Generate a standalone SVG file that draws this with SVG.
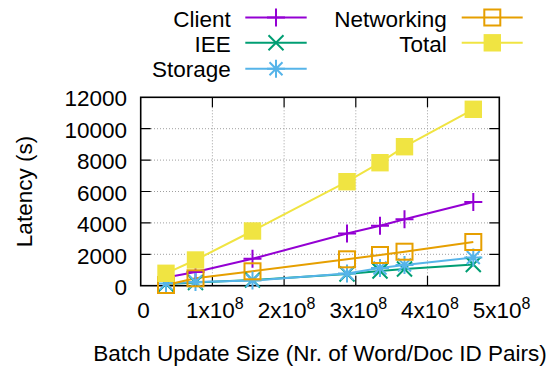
<svg xmlns="http://www.w3.org/2000/svg" width="557" height="366" viewBox="0 0 557 366">
<defs>
<style>
text{font-family:"Liberation Sans",Arial,sans-serif;font-size:22.5px;fill:#000}
.grid{stroke:#a0a0a0;stroke-width:1;stroke-dasharray:1 2;fill:none}
.tick{stroke:#000;stroke-width:1.2;fill:none}
.border{stroke:#000;stroke-width:1.6;fill:none}
.ln{fill:none;stroke-width:2;stroke-linejoin:round}
.client{stroke:#9400d3}
.iee{stroke:#009e73}
.storage{stroke:#56b4e9}
.net{stroke:#e69f00}
.total{stroke:#f0e442}
</style>
<path id="mPlus" d="M-9,0H9M0,-9V9" stroke-width="2"/>
<path id="mCross" d="M-7.5,-7.5L7.5,7.5M-7.5,7.5L7.5,-7.5" stroke-width="2"/>
<path id="mStar" d="M-9,0H9M0,-9V9M-6.5,-6.5L6.5,6.5M-6.5,6.5L6.5,-6.5" stroke-width="2"/>
<rect id="mBox" x="-8" y="-8" width="16" height="16" fill="none" stroke-width="2"/>
<rect id="mFill" x="-8.7" y="-8.7" width="17.4" height="17.4" fill="#f0e442" stroke="none"/>
</defs>
<rect width="557" height="366" fill="#fff"/>

<g id="grid">
<path class="grid" d="M151,128.7H489M151,160.1H489M151,191.5H489M151,222.9H489M151,254.3H489"/>
<path class="grid" d="M212.4,107.3V275.7M284.1,107.3V275.7M355.8,107.3V275.7M427.5,107.3V275.7"/>
</g>

<g id="axes">
<path class="tick" d="M140.7,128.7h10M140.7,160.1h10M140.7,191.5h10M140.7,222.9h10M140.7,254.3h10M499.3,128.7h-10M499.3,160.1h-10M499.3,191.5h-10M499.3,222.9h-10M499.3,254.3h-10"/>
<path class="tick" d="M212.4,285.7v-10M284.1,285.7v-10M355.8,285.7v-10M427.5,285.7v-10M212.4,97.3v10M284.1,97.3v10M355.8,97.3v10M427.5,97.3v10"/>
<rect class="border" x="140.7" y="97.3" width="358.6" height="188.4"/>
<g text-anchor="end">
<text x="127" y="106">12000</text>
<text x="127" y="137.5">10000</text>
<text x="127" y="169">8000</text>
<text x="127" y="200.5">6000</text>
<text x="127" y="232">4000</text>
<text x="127" y="263.5">2000</text>
<text x="127" y="294.5">0</text>
</g>
<text x="143.5" y="318" text-anchor="middle">0</text>
<text x="186" y="318">1x10<tspan font-size="16" dy="-9">8</tspan></text>
<text x="257.7" y="318">2x10<tspan font-size="16" dy="-9">8</tspan></text>
<text x="329.4" y="318">3x10<tspan font-size="16" dy="-9">8</tspan></text>
<text x="401.1" y="318">4x10<tspan font-size="16" dy="-9">8</tspan></text>
<text x="472.8" y="318">5x10<tspan font-size="16" dy="-9">8</tspan></text>
<text transform="translate(32.3,191.5) rotate(-90)" text-anchor="middle">Latency (s)</text>
<text x="320" y="360.5" text-anchor="middle">Batch Update Size (Nr. of Word/Doc ID Pairs)</text>
</g>

<g id="connectors">
<polyline class="ln client" points="166,277.5 195.5,272 252.5,258.8 347,233.5 380,225.7 404.5,219.2 473.3,202"/>
<polyline class="ln iee" points="166,284 195.5,282.5 252.5,280 347,274 380,271 404.5,269 473.3,264.5"/>
<polyline class="ln storage" points="166,283.5 195.5,282 252.5,280.5 347,273.5 380,268 404.5,265 473.3,257.5"/>
<polyline class="ln net" points="166,285 195.5,278.3 252.5,271.3 347,259.3 380,255 404.5,251.7 473.3,242"/>
<polyline class="ln total" points="166,273.3 195.5,260 252.5,231 347,181.7 380,162.7 404.5,146.7 473.3,109.3"/>
</g>

<g id="series-client" class="client">
<use href="#mPlus" x="166" y="277.5"/><use href="#mPlus" x="195.5" y="272"/><use href="#mPlus" x="252.5" y="258.8"/><use href="#mPlus" x="347" y="233.5"/><use href="#mPlus" x="380" y="225.7"/><use href="#mPlus" x="404.5" y="219.2"/><use href="#mPlus" x="473.3" y="202"/>
</g>
<g id="series-iee" class="iee">
<use href="#mCross" x="166" y="284"/><use href="#mCross" x="195.5" y="282.5"/><use href="#mCross" x="252.5" y="280"/><use href="#mCross" x="347" y="274"/><use href="#mCross" x="380" y="271"/><use href="#mCross" x="404.5" y="269"/><use href="#mCross" x="473.3" y="264.5"/>
</g>
<g id="series-storage" class="storage">
<use href="#mStar" x="166" y="283.5"/><use href="#mStar" x="195.5" y="282"/><use href="#mStar" x="252.5" y="280.5"/><use href="#mStar" x="347" y="273.5"/><use href="#mStar" x="380" y="268"/><use href="#mStar" x="404.5" y="265"/><use href="#mStar" x="473.3" y="257.5"/>
</g>
<g id="series-networking" class="net">
<use href="#mBox" x="166" y="285"/><use href="#mBox" x="195.5" y="278.3"/><use href="#mBox" x="252.5" y="271.3"/><use href="#mBox" x="347" y="259.3"/><use href="#mBox" x="380" y="255"/><use href="#mBox" x="404.5" y="251.7"/><use href="#mBox" x="473.3" y="242"/>
</g>
<g id="series-total">
<use href="#mFill" x="166" y="273.3"/><use href="#mFill" x="195.5" y="260"/><use href="#mFill" x="252.5" y="231"/><use href="#mFill" x="347" y="181.7"/><use href="#mFill" x="380" y="162.7"/><use href="#mFill" x="404.5" y="146.7"/><use href="#mFill" x="473.3" y="109.3"/>
</g>

<g id="legend">
<g text-anchor="end">
<text x="230.7" y="26.7">Client</text>
<text x="230.7" y="51.7">IEE</text>
<text x="230.7" y="76.7">Storage</text>
<text x="446.7" y="26.7">Networking</text>
<text x="446.7" y="51.7">Total</text>
</g>
<g id="legend-client" class="client"><path class="ln" d="M245.3,17.5H306.7"/><use href="#mPlus" x="276" y="17.5"/></g>
<g id="legend-iee" class="iee"><path class="ln" d="M245.3,42.8H306.7"/><use href="#mCross" x="276" y="42.8"/></g>
<g id="legend-storage" class="storage"><path class="ln" d="M245.3,68.7H306.7"/><use href="#mStar" x="276" y="68.7"/></g>
<g id="legend-networking" class="net"><path class="ln" d="M461.7,17.5H522.7"/><use href="#mBox" x="492.3" y="17.5"/></g>
<g id="legend-total" class="total"><path class="ln" d="M461.7,42.8H522.7"/><use href="#mFill" x="492.3" y="42.8"/></g>
</g>
</svg>
